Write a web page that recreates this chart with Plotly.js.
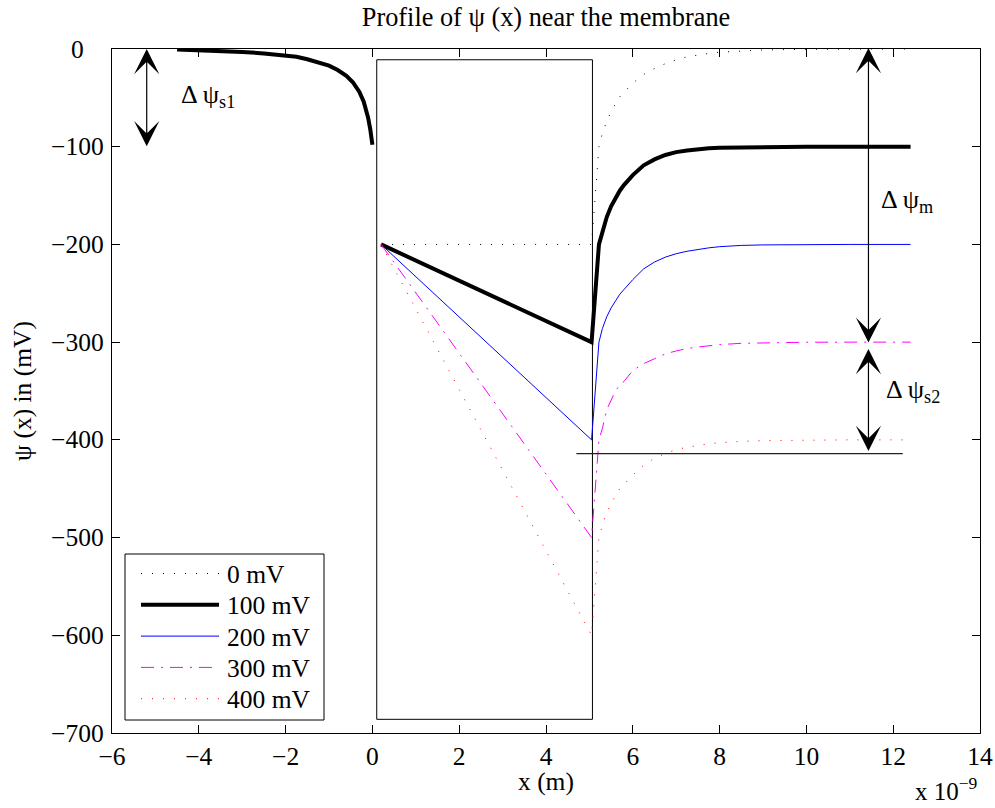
<!DOCTYPE html>
<html><head><meta charset="utf-8">
<script src="https://cdn.plot.ly/plotly-3.0.1.min.js"></script>
<style>html,body{margin:0;padding:0;background:#fff;} #chart{width:995px;height:808px;}</style>
</head><body><div id="chart"></div>
<script>
// ---- data (x in units of 1e-9 m, psi in mV) ----
const seriesNames = ['0 mV', '100 mV', '200 mV', '300 mV', '400 mV'];
const xMembrane = [0.2, 5.05];
const xRight = [5.05, 5.22, 5.3, 5.4, 5.5, 5.6, 5.7, 5.8, 6.0, 6.25, 6.5, 6.75, 7.0, 7.25, 7.5, 7.75, 8.0, 8.5, 9.0, 10.0, 11.0, 12.4];
const xLeft100 = [-4.5, -4, -3.5, -3, -2.5, -2, -1.75, -1.5, -1.25, -1, -0.8, -0.6, -0.45, -0.3, -0.2, -0.1, -0.05, 0];
const yLeft100 = [-0.5, -1, -2, -3, -4.5, -6.5, -8, -10.5, -13.5, -17, -21.5, -27.5, -34, -44, -54, -70, -82, -98];

const yMem0 = [-200, -200];
const yMem100 = [-200, -300];
const yMem200 = [-200, -400];
const yMem300 = [-200, -500];
const yMem400 = [-200, -600];

const yRight0 = [-200, -100, -86, -74, -64, -56, -49, -44, -35, -26, -20, -15, -11, -8, -6, -4.5, -3.3, -1.8, -1, -0.3, -0.1, 0];
const yRight100 = [-300, -200, -186, -172, -161, -152, -145, -139, -129, -119, -113, -108.5, -105.5, -103.8, -102.5, -101.6, -101, -100.5, -100.2, -100, -100, -100];
const yRight200 = [-400, -300, -286, -274, -265, -258, -251, -246, -236, -225, -218, -213, -209.5, -207, -205, -203.5, -202.3, -201, -200.5, -200.1, -200, -200];
const yRight300 = [-500, -400, -388, -369, -359, -350, -344, -340, -329, -322, -317, -312, -309, -306.5, -305, -303.5, -302.5, -301.2, -300.6, -300.1, -300, -300];
const yRight400 = [-600, -500, -487, -474, -465, -457, -450, -445, -436, -426, -419, -414, -410, -407.5, -405.5, -404, -403, -401.5, -400.8, -400.2, -400, -400];

const xTickVals = [-6, -4, -2, 0, 2, 4, 6, 8, 10, 12, 14];
const yTickVals = [0, -100, -200, -300, -400, -500, -600, -700];
const yTickText = ['0', '\u2212100', '\u2212200', '\u2212300', '\u2212400', '\u2212500', '\u2212600', '\u2212700'];

// membrane box and reference line (data coordinates)
const membraneX = [0.1, 5.07];
const membraneY = [-686, -11];
const refLineX = [4.7, 12.22];
const refLineY = -414;

// ---- styles ----
const FONT = 'Liberation Serif, Times New Roman, serif';
const lineStyles = [
  {color: '#000000', width: 1, dash: '1px,10px'},
  {color: '#000000', width: 4},
  {color: '#0000ff', width: 1},
  {color: '#ff00ff', width: 1, dash: '13px,7px,2px,7px'},
  {color: '#ff0000', width: 1, dash: '1px,10px'}
];

// ---- traces ----
const traces = [
  {x: xMembrane.concat(xRight), y: yMem0.concat(yRight0)},
  {x: xLeft100.concat([null], xMembrane, xRight), y: yLeft100.concat([null], yMem100, yRight100)},
  {x: xMembrane.concat(xRight), y: yMem200.concat(yRight200)},
  {x: xMembrane.concat(xRight), y: yMem300.concat(yRight300)},
  {x: xMembrane.concat(xRight), y: yMem400.concat(yRight400)}
].map((t, i) => Object.assign(t, {name: seriesNames[i], mode: 'lines', line: lineStyles[i], showlegend: false}));

const arrowCommon = {xref: 'x', yref: 'y', axref: 'x', ayref: 'y', text: '', showarrow: true,
  arrowside: 'end+start', arrowhead: 3, startarrowhead: 3, arrowsize: 3.5, startarrowsize: 3.5,
  arrowwidth: 1.2, arrowcolor: '#000', standoff: 0, startstandoff: 0};

const annotations = [
  Object.assign({}, arrowCommon, {x: -5.2, y: 0, ax: -5.2, ay: -101}),
  Object.assign({}, arrowCommon, {x: 11.43, y: 1, ax: 11.43, ay: -302}),
  Object.assign({}, arrowCommon, {x: 11.43, y: -307, ax: 11.43, ay: -413}),
  {xref: 'x', yref: 'y', x: -4.45, y: -48, xanchor: 'left', yanchor: 'middle', showarrow: false,
   text: '\u0394 \u03c8<sub>s1</sub>', font: {family: FONT, size: 26, color: '#000'}},
  {xref: 'x', yref: 'y', x: 11.68, y: -156, xanchor: 'left', yanchor: 'middle', showarrow: false,
   text: '\u0394 \u03c8<sub>m</sub>', font: {family: FONT, size: 26, color: '#000'}},
  {xref: 'x', yref: 'y', x: 11.78, y: -350, xanchor: 'left', yanchor: 'middle', showarrow: false,
   text: '\u0394 \u03c8<sub>s2</sub>', font: {family: FONT, size: 26, color: '#000'}},
  {xref: 'paper', yref: 'paper', x: 1.0, y: -0.055, xanchor: 'right', yanchor: 'top', showarrow: false,
   text: 'x 10<sup>\u22129</sup>', font: {family: FONT, size: 25, color: '#000'}},
  {xref: 'paper', yref: 'paper', x: 0.5, y: -0.071, xanchor: 'center', yanchor: 'middle', showarrow: false,
   text: 'x (m)', font: {family: FONT, size: 25.5, color: '#000'}}
];
yTickVals.forEach((v, i) => {
  annotations.push({xref: 'paper', yref: 'y', x: -0.0403, y: v, xanchor: 'center', yanchor: 'middle',
    showarrow: false, text: yTickText[i], font: {family: FONT, size: 25.5, color: '#000'}});
});

// ---- legend (drawn in paper coordinates of the plot area) ----
const PW = 868, PH = 684, PL = 112, PB = 733;
const px2x = p => (p - PL) / PW;
const px2y = p => (PB - p) / PH;
const shapes = [
  {type: 'rect', xref: 'x', yref: 'y', x0: membraneX[0], x1: membraneX[1], y0: membraneY[0], y1: membraneY[1],
   line: {color: '#000', width: 1}, layer: 'below'},
  {type: 'line', xref: 'x', yref: 'y', x0: refLineX[0], x1: refLineX[1], y0: refLineY, y1: refLineY,
   line: {color: '#222', width: 1.2}},
  {type: 'rect', xref: 'paper', yref: 'paper', x0: px2x(125), x1: px2x(324), y0: px2y(720), y1: px2y(554),
   line: {color: '#000', width: 1}, fillcolor: '#fff', layer: 'above'}
];
seriesNames.forEach((name, i) => {
  const rowY = 573.5 + i * 31.3;
  shapes.push({type: 'line', xref: 'paper', yref: 'paper', x0: px2x(141), x1: px2x(219), y0: px2y(rowY), y1: px2y(rowY),
    line: lineStyles[i], layer: 'above'});
  annotations.push({xref: 'paper', yref: 'paper', x: px2x(225), y: px2y(rowY + 1), xanchor: 'left', yanchor: 'middle',
    showarrow: false, text: name, font: {family: FONT, size: 25.5, color: '#000'}});
});

const layout = {
  width: 995, height: 808,
  margin: {l: 112, r: 15, t: 49, b: 75},
  paper_bgcolor: '#fff', plot_bgcolor: '#fff',
  font: {family: FONT, size: 25.5, color: '#000'},
  title: {text: 'Profile of \u03c8 (x) near the membrane', x: 0.5, xref: 'paper', xanchor: 'center', y: 0.979, yref: 'container',
          yanchor: 'middle', font: {family: FONT, size: 26.3, color: '#000'}},
  xaxis: {range: [-6, 14], tickvals: xTickVals, ticks: 'inside', ticklen: 8, tickwidth: 1, tickcolor: '#000',
          showline: true, linecolor: '#000', linewidth: 1, mirror: 'ticks', showgrid: false, zeroline: false,
          tickfont: {family: FONT, size: 25.5, color: '#000'}, ticklabelstandoff: 0},
  yaxis: {range: [-700, 0], tickvals: yTickVals, ticks: 'inside', ticklen: 8, tickwidth: 1, tickcolor: '#000',
          showline: true, linecolor: '#000', linewidth: 1, mirror: 'ticks', showgrid: false, zeroline: false,
          showticklabels: false,
          title: {text: '\u03c8 (x) in (mV)', font: {family: FONT, size: 25.5, color: '#000'}, standoff: 72}},
  showlegend: false,
  shapes: shapes,
  annotations: annotations
};

Plotly.newPlot('chart', traces, layout, {displayModeBar: false, staticPlot: true});
</script>
</body></html>
